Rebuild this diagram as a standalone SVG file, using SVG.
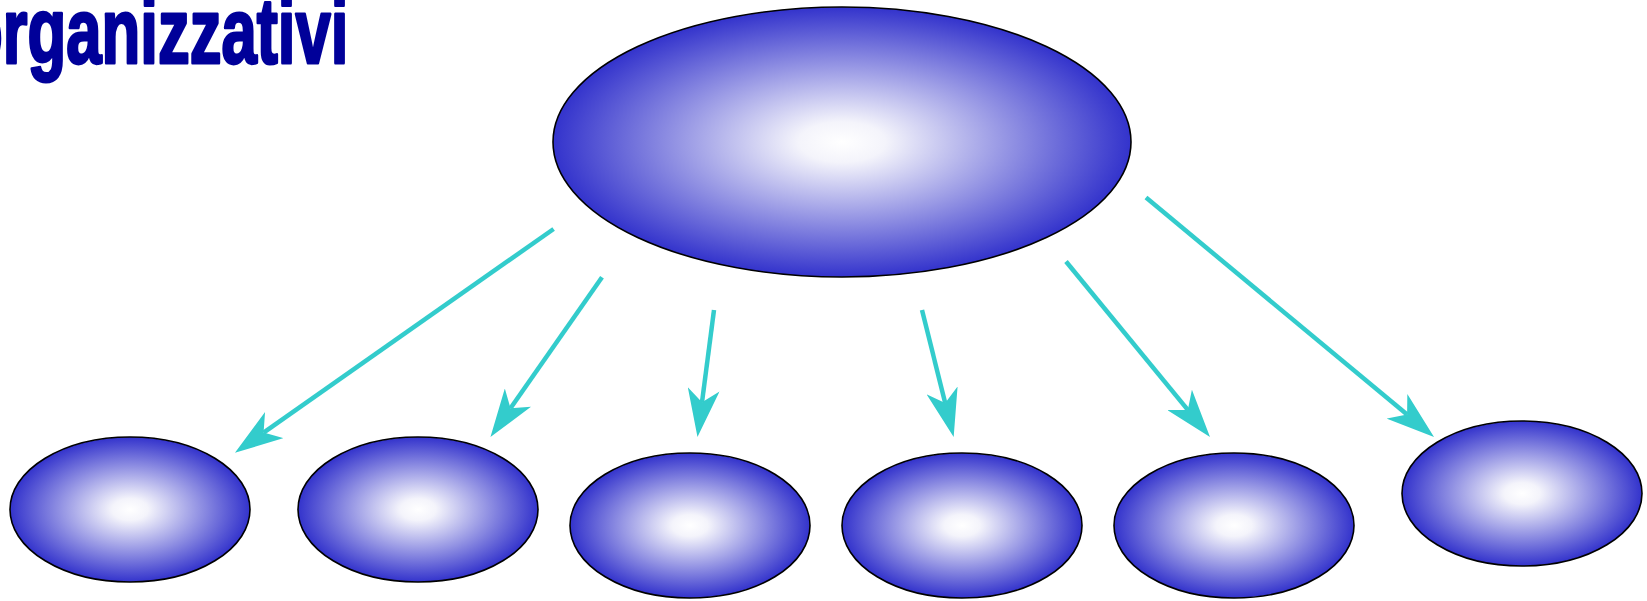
<svg xmlns="http://www.w3.org/2000/svg" width="1647" height="601" viewBox="0 0 1647 601">
<style>
.node{stroke:#000;stroke-width:1.6;fill:url(#g)}
.conn line{stroke:#33CCCC;stroke-width:4.5;marker-end:url(#ah)}
.title{font-family:"Liberation Sans",Arial,sans-serif;font-weight:bold;font-size:92px;fill:#000099;stroke:#000099;stroke-width:3;stroke-linejoin:round}
</style>
<defs>
<radialGradient id="g" cx="50%" cy="50%" r="50%">
<stop offset="0" stop-color="#FFFFFF"/>
<stop offset="0.15" stop-color="#F4F4FB"/>
<stop offset="1" stop-color="#3333CC"/>
</radialGradient>
<marker id="ah" markerUnits="userSpaceOnUse" viewBox="0 -16 48 32" refX="13" refY="0" markerWidth="48" markerHeight="32" orient="auto">
<path d="M48,0 L0,-16 L13,0 L0,16 Z" fill="#33CCCC"/>
</marker>
</defs>
<g id="title"><text class="title" transform="translate(-36,63) scale(0.69,1)" x="0" y="0">organizzativi</text></g>
<g id="main"><ellipse class="node" cx="842" cy="142" rx="289" ry="135"/></g>
<g id="n1"><ellipse class="node" cx="130" cy="509.5" rx="120" ry="72.5"/></g>
<g id="n2"><ellipse class="node" cx="418" cy="509.5" rx="120" ry="72.5"/></g>
<g id="n3"><ellipse class="node" cx="690" cy="525.5" rx="120" ry="72.5"/></g>
<g id="n4"><ellipse class="node" cx="962" cy="525.5" rx="120" ry="72.5"/></g>
<g id="n5"><ellipse class="node" cx="1234" cy="525.5" rx="120" ry="72.5"/></g>
<g id="n6"><ellipse class="node" cx="1522" cy="493.5" rx="120" ry="72.5"/></g>
<g id="connectors" class="conn">
<line x1="553.6" y1="229" x2="263.6" y2="432.6"/>
<line x1="602" y1="277.3" x2="510.5" y2="408.3"/>
<line x1="714" y1="310" x2="702" y2="402.3"/>
<line x1="922" y1="310" x2="945.2" y2="403"/>
<line x1="1066" y1="261.5" x2="1187.8" y2="409.9"/>
<line x1="1146" y1="197.5" x2="1407.1" y2="414.6"/>
</g>
</svg>
